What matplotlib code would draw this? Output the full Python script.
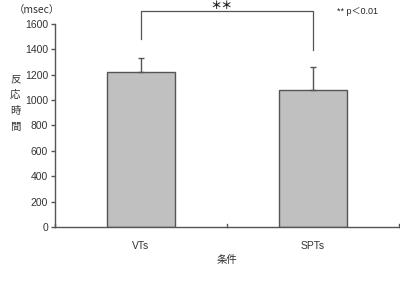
import matplotlib
matplotlib.use("Agg")
import matplotlib.pyplot as plt
import numpy as np

plt.rcParams['font.family'] = ['Liberation Sans', 'Noto Sans CJK JP', 'DejaVu Sans']

categories = ["VTs", "SPTs"]
means = [1225, 1080]
errors = [110, 180]
yticks = [0, 200, 400, 600, 800, 1000, 1200, 1400, 1600]

fig = plt.figure(figsize=(4.0, 2.82), dpi=100)
ax = fig.add_axes([0.1375, 0.195, 0.86, 0.72])

x = np.arange(len(categories))
ax.bar(x, means, width=0.4, color="#c0c0c0", edgecolor="#555555", linewidth=1.0, zorder=2)
ax.errorbar(x, means, yerr=[np.zeros(len(errors)), errors], fmt="none",
            ecolor="#555555", elinewidth=1.0, capsize=2.5, capthick=1.0, zorder=3)

ax.set_xlim(-0.5, 1.5)
ax.set_ylim(0, 1600)
ax.set_yticks(yticks)
ax.set_yticklabels([str(v) for v in yticks], fontsize=7.5, color="#333333")
ax.set_xticks(x)
ax.set_xticklabels(categories, fontsize=7.5, color="#333333")
ax.tick_params(axis="x", length=0, pad=10)
ax.tick_params(axis="y", length=3, width=1, color="#555555", pad=2)
for b in [-0.5, 0.5, 1.5]:
    ax.plot([b, b], [0, 25], color="#555555", lw=1, clip_on=False, zorder=4)

for s in ["top", "right"]:
    ax.spines[s].set_visible(False)
for s in ["left", "bottom"]:
    ax.spines[s].set_color("#555555")
    ax.spines[s].set_linewidth(1.0)

# significance bracket
yb = 1700
ax.plot([0, 0, 1, 1], [1480, yb, yb, 1395], color="#555555", lw=0.9, clip_on=False)
ax.text(0.47, yb + 45, "＊＊", fontsize=8, ha="center", va="center", color="#222222",
        fontweight="bold", family=["Noto Sans CJK JP"])
ax.text(1.26, 1700, "** p＜0.01", fontsize=6.5, ha="center", va="center", color="#222222")

fig.text(0.0925, 0.966, "（msec）", fontsize=7.5, ha="center", va="center", color="#333333",
         family=["Noto Sans CJK JP"])
ax.set_xlabel("条件", fontsize=7.5, color="#333333", labelpad=3,
              family=["Noto Sans CJK JP"])
fig.text(0.038, 0.635, "反\n応\n時\n間", fontsize=7.5, ha="center", va="center",
         color="#333333", linespacing=1.7, family=["Noto Sans CJK JP"])

fig.savefig("out.png", dpi=100)
